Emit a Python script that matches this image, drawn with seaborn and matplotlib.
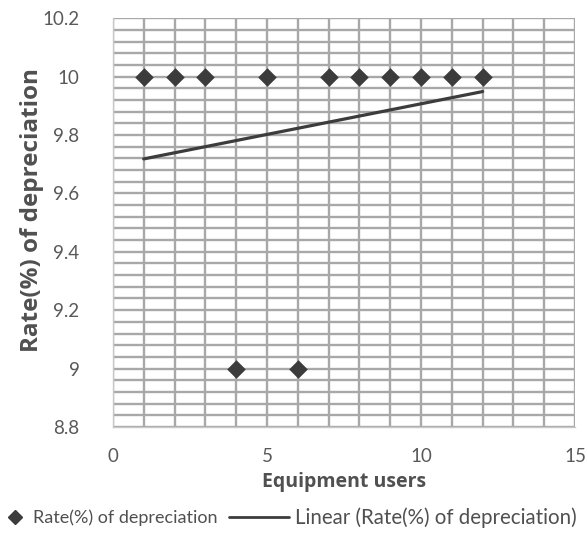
import numpy as np
import pandas as pd
import matplotlib
matplotlib.use("Agg")
import matplotlib.pyplot as plt
from matplotlib.lines import Line2D
import seaborn as sns

users = [1, 2, 3, 4, 5, 6, 7, 8, 9, 10, 11, 12]
rate = [10, 10, 10, 9, 10, 9, 10, 10, 10, 10, 10, 10]
x_ticks = [0, 5, 10, 15]
y_ticks = [8.8, 9.0, 9.2, 9.4, 9.6, 9.8, 10.0, 10.2]
y_labels = ["8.8", "9", "9.2", "9.4", "9.6", "9.8", "10", "10.2"]
series_label = "Rate(%) of depreciation"
trend_label = "Linear (Rate(%) of depreciation)"

df = pd.DataFrame({"users": users, "rate": rate})

sns.set_style("white")
plt.rcParams['font.family'] = ['Lato', 'DejaVu Sans']

fig = plt.figure(figsize=(5.88, 5.35), dpi=100)
ax = fig.add_axes([0.192, 0.202, 0.786, 0.764])

grid_c = "#a8a8a8"
ax.set_xlim(0, 15)
ax.set_ylim(8.8, 10.2)
ax.set_xticks(x_ticks)
ax.set_xticks(np.arange(0, 15.01, 1), minor=True)
ax.set_yticks(y_ticks)
ax.set_yticklabels(y_labels)
ax.set_yticks(np.arange(8.8, 10.201, 0.04), minor=True)
ax.grid(True, which="both", color=grid_c, linewidth=1.7)
ax.set_axisbelow(True)

mark_c = "#3c3c3c"
sns.regplot(data=df, x="users", y="rate", scatter=False, ci=None, ax=ax,
            line_kws=dict(color=mark_c, linewidth=2.3))
sns.scatterplot(data=df, x="users", y="rate", marker="D", s=90, color=mark_c,
                linewidth=0, ax=ax, zorder=5)

for side in ["top", "right"]:
    ax.spines[side].set_visible(False)
for side in ["left", "bottom"]:
    ax.spines[side].set_color("#c8c8c8")
    ax.spines[side].set_linewidth(1.0)

ax.tick_params(axis="both", which="major", length=5, width=1, color="#b0b0b0",
               labelsize=13.5, labelcolor="#595959", direction="out")
ax.tick_params(axis="y", which="major", pad=19)
ax.tick_params(axis="x", which="major", pad=10)
ax.tick_params(axis="both", which="minor", length=0)
ax.set_xlabel("Equipment users", fontsize=14, fontweight="bold", color="#505050",
              labelpad=5, family=["Open Sans", "DejaVu Sans"])
ax.set_ylabel("Rate(%) of depreciation", fontsize=17.5, fontweight="bold", color="#505050",
              family=["Open Sans", "DejaVu Sans"])
ax.yaxis.set_label_coords(-0.148, 0.53)

h1 = [Line2D([0], [0], marker="D", linestyle="none", color=mark_c, markersize=7)]
h2 = [Line2D([0], [0], color=mark_c, linewidth=2)]
leg1 = fig.legend(h1, [series_label], loc="center left", bbox_to_anchor=(-0.02, 0.032),
                  frameon=False, fontsize=13, labelcolor="#505050",
                  handlelength=1.2, handletextpad=0.4)
leg2 = fig.legend(h2, [trend_label], loc="center right", bbox_to_anchor=(1.012, 0.032),
                  frameon=False, fontsize=14.8, labelcolor="#505050",
                  handlelength=2.9, handletextpad=0.3)

fig.savefig("out.png", dpi=100)
